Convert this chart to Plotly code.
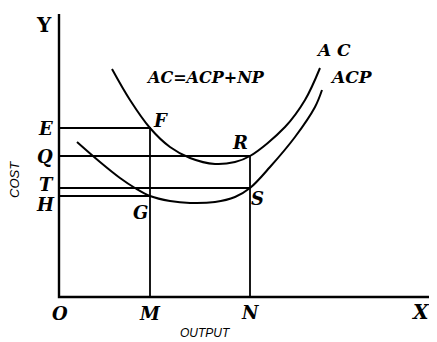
import plotly.graph_objects as go

# Curves (output, cost); origin at O
ac_x = [53, 71, 91, 111, 131, 156, 176, 191, 226, 246, 261]
ac_y = [228, 197, 169, 150, 139, 133, 135, 141, 170, 197, 229]
acp_x = [18, 41, 61, 76, 91, 111, 131, 156, 176, 191, 211, 236, 256, 263]
acp_y = [155, 135, 119, 109, 101, 96, 94, 95, 100, 109, 130, 160, 190, 207]

# Guide levels
out_M, out_N = 91, 191
cost_E, cost_Q, cost_T, cost_H = 169, 141, 109, 101
x_axis_end, y_axis_end = 371, 283

fig = go.Figure()

def seg(xs, ys, w=1.8):
    fig.add_trace(go.Scatter(x=xs, y=ys, mode="lines",
                             line=dict(color="black", width=w),
                             hoverinfo="skip", showlegend=False))

# axes
seg([0, 0, x_axis_end], [y_axis_end, 0, 0], 2.4)
# guide lines
seg([0, out_M, out_M], [cost_E, cost_E, 0])
seg([0, out_N, out_N], [cost_Q, cost_Q, 0])
seg([0, out_N], [cost_T, cost_T])
seg([0, out_M], [cost_H, cost_H])
# curves
fig.add_trace(go.Scatter(x=ac_x, y=ac_y, mode="lines", line=dict(color="black", width=2, shape="spline"),
                         hoverinfo="skip", showlegend=False))
fig.add_trace(go.Scatter(x=acp_x, y=acp_y, mode="lines", line=dict(color="black", width=2, shape="spline"),
                         hoverinfo="skip", showlegend=False))

serif = "DejaVu Serif"
def lab(x, y, t, size=18, fam=serif, angle=0):
    fig.add_annotation(x=x, y=y, text=t, showarrow=False, textangle=angle,
                       font=dict(family=fam, size=size, color="black"))

lab(-15, 272, "<b>Y</b>", 20)
lab(361, -15, "<b><i>X</i></b>", 20)
lab(1, -16, "<b><i>O</i></b>")
lab(out_M, -16, "<b><i>M</i></b>")
lab(out_N, -15, "<b><i>N</i></b>")
lab(-14, cost_E, "<b><i>E</i></b>")
lab(-14, cost_Q, "<b><i>Q</i></b>")
lab(-13, 113, "<b><i>T</i></b>")
lab(-14, 93, "<b><i>H</i></b>")
lab(101, 177, "<b><i>F</i></b>")
lab(181, 155, "<b><i>R</i></b>")
lab(198, 99, "<b><i>S</i></b>")
lab(81, 85, "<b><i>G</i></b>")
lab(146, 220, "<b><i>AC=ACP+NP</i></b>", 16)
lab(274, 247, "<b><i>A C</i></b>", 17)
lab(292, 220, "<b><i>ACP</i></b>", 17)
lab(146, -36, "<i>OUTPUT</i>", 12, "Liberation Sans")
lab(-45, 117, "<i>COST</i>", 13, "Liberation Sans", -90)

fig.update_layout(width=437, height=342, margin=dict(l=0, r=0, t=0, b=0),
                  plot_bgcolor="white", paper_bgcolor="white",
                  xaxis=dict(range=[-51, 386], visible=False),
                  yaxis=dict(range=[-53, 289], visible=False))
fig.write_html("out.html")
